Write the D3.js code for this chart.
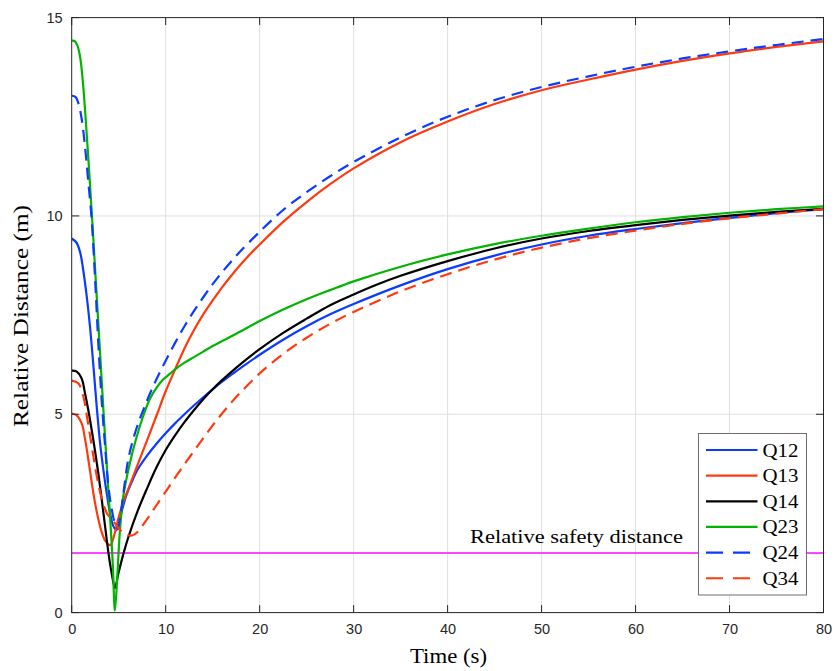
<!DOCTYPE html>
<html>
<head>
<meta charset="utf-8">
<script src="https://cdn.jsdelivr.net/npm/d3@7"></script>
<style>
  html, body { margin: 0; padding: 0; background: #fff; }
  svg { display: block; }
</style>
</head>
<body>
<svg id="chart" width="836" height="671"></svg>
<script>
// ---- data (time s, relative distance m) ----
const xTicks = [0, 10, 20, 30, 40, 50, 60, 70, 80];
const yTicks = [0, 5, 10, 15];
const safetyDistance = 1.5;
const safetyLabel = "Relative safety distance";
const seriesNames = ["Q12", "Q13", "Q14", "Q23", "Q24", "Q34"];

const q12 = [[0,9.43],[0.5,9.33],[0.9,9.08],[1.25,8.6],[1.6,7.97],[1.95,7.2],[2.3,6.25],[2.66,5.2],[3.01,4.3],[3.37,3.6],[3.72,3.02],[4.07,2.52],[4.43,2.18],[4.75,2.08],[5.0,2.22],[5.32,2.55],[5.85,2.98],[6.4,3.3],[7,3.6],[8,3.95],[9,4.25],[10,4.52],[11,4.77],[12,5.0],[13,5.22],[14,5.43],[15,5.63],[16,5.82],[17,6.0],[18,6.17],[20,6.5],[22.5,6.88],[25,7.22],[27.5,7.52],[30,7.78],[35,8.25],[40,8.66],[45,9.0],[50,9.28],[55,9.5],[60,9.67],[65,9.82],[70,9.95],[75,10.07],[80,10.17]];
const q13 = [[0,5.02],[0.5,4.98],[1.06,4.77],[1.42,4.38],[1.77,3.86],[2.13,3.28],[2.48,2.77],[2.84,2.35],[3.19,2.03],[3.6,1.8],[4.1,1.7],[4.6,2.02],[5,2.4],[5.5,2.8],[6,3.1],[7,3.72],[8,4.33],[9,4.95],[10,5.58],[11,6.13],[12,6.66],[13,7.12],[14,7.52],[15,7.87],[16,8.2],[17,8.5],[18,8.78],[19,9.04],[20,9.28],[22.5,9.85],[25,10.35],[27.5,10.8],[30,11.2],[35,11.86],[40,12.38],[45,12.82],[50,13.17],[55,13.44],[60,13.69],[65,13.91],[70,14.1],[75,14.26],[80,14.4]];
const q14 = [[0,6.1],[0.5,6.08],[1.06,5.9],[1.4,5.55],[1.77,5.1],[2.13,4.6],[2.48,4.08],[2.84,3.5],[3.19,2.86],[3.55,2.18],[3.9,1.52],[4.25,1.0],[4.6,0.62],[4.96,0.98],[5.5,1.48],[6,1.88],[7,2.55],[8,3.12],[9,3.65],[10,4.1],[11,4.47],[12,4.8],[13,5.1],[14,5.38],[15,5.63],[16,5.86],[17,6.07],[18,6.27],[20,6.64],[22.5,7.05],[25,7.41],[27.5,7.75],[30,8.02],[32.5,8.27],[35,8.49],[40,8.86],[45,9.18],[50,9.43],[55,9.62],[60,9.77],[65,9.9],[70,10.01],[75,10.1],[80,10.18]];
const q23 = [[0,14.42],[0.3,14.41],[0.6,14.3],[0.9,14.0],[1.2,13.35],[1.5,12.4],[1.8,11.35],[2.13,10.1],[2.48,8.7],[2.75,7.62],[3.01,6.58],[3.37,5.13],[3.72,3.75],[4.07,2.45],[4.36,1.28],[4.6,0.05],[4.86,0.95],[5.14,2.1],[5.5,2.95],[6.2,3.78],[6.9,4.42],[7.6,4.95],[8.3,5.38],[9,5.66],[9.7,5.87],[10.5,6.03],[11,6.13],[12,6.3],[13,6.44],[14,6.58],[15,6.72],[17.5,7.03],[20,7.35],[22.5,7.64],[25,7.9],[27.5,8.13],[30,8.35],[35,8.72],[40,9.03],[45,9.29],[50,9.5],[55,9.68],[60,9.84],[65,9.97],[70,10.08],[75,10.17],[80,10.24]];
const q24 = [[0,13.03],[0.4,13.0],[0.7,12.85],[1.06,12.45],[1.42,11.74],[1.6,11.3],[1.77,10.85],[1.95,10.4],[2.13,9.9],[2.48,8.45],[2.84,6.75],[3.19,5.35],[3.55,4.2],[3.9,3.2],[4.25,2.62],[4.6,2.25],[4.89,2.13],[5.14,2.38],[5.5,3.0],[6.0,3.84],[6.7,4.5],[7.6,5.1],[8.7,5.72],[10,6.35],[11,6.8],[12,7.22],[13,7.6],[14,7.95],[15,8.28],[16,8.58],[17,8.86],[18,9.12],[20,9.6],[22.5,10.15],[25,10.6],[27.5,11.0],[30,11.36],[35,11.98],[40,12.5],[45,12.92],[50,13.25],[55,13.52],[60,13.76],[65,13.97],[70,14.15],[75,14.31],[80,14.46]];
const q34 = [[0,5.85],[0.7,5.78],[1.24,5.45],[1.6,4.98],[2.13,4.2],[2.66,3.45],[3.19,2.88],[3.72,2.52],[4.2,2.36],[4.6,2.25],[5.0,2.12],[5.5,2.01],[6.0,1.95],[6.5,1.95],[7,2.03],[8,2.35],[9,2.7],[10,3.05],[11,3.4],[12,3.74],[13,4.07],[14,4.4],[15,4.72],[16,5.02],[17,5.3],[18,5.56],[20,6.03],[22.5,6.52],[25,6.93],[27.5,7.28],[30,7.58],[35,8.1],[40,8.53],[45,8.9],[50,9.2],[55,9.44],[60,9.63],[65,9.8],[70,9.94],[75,10.06],[80,10.17]];

const seriesData = [q12, q13, q14, q23, q24, q34];
const seriesColors = ["#0b3bff", "#ff3a0f", "#000000", "#00b400", "#0b3bff", "#ff3a0f"];
const seriesDash = [null, null, null, null, "12,7", "12,7"];

// ---- layout ----
const svg = d3.select("#chart");
const plot = { left: 71.7, right: 823.5, top: 17.6, bottom: 612.6 };
const x = d3.scaleLinear().domain([0, 80]).range([plot.left, plot.right]);
const y = d3.scaleLinear().domain([0, 15]).range([plot.bottom, plot.top]);
const axisColor = "#262626";
const serif = "'Liberation Serif', 'DejaVu Serif', serif";
const sans = "'Liberation Sans', Arial, sans-serif";

// grid
const grid = svg.append("g");
grid.selectAll("line.gx").data(xTicks.slice(1, -1)).join("line")
  .attr("x1", d => x(d)).attr("x2", d => x(d))
  .attr("y1", plot.top).attr("y2", plot.bottom)
  .attr("stroke", "#dfdfdf").attr("stroke-width", 1);
grid.selectAll("line.gy").data(yTicks.slice(1, -1)).join("line")
  .attr("x1", plot.left).attr("x2", plot.right)
  .attr("y1", d => y(d)).attr("y2", d => y(d))
  .attr("stroke", "#dfdfdf").attr("stroke-width", 1);

// safety line
svg.append("line")
  .attr("x1", x(0)).attr("x2", x(80))
  .attr("y1", y(safetyDistance)).attr("y2", y(safetyDistance))
  .attr("stroke", "#ff44ff").attr("stroke-width", 2);

// series lines
const line = d3.line().x(d => x(d[0])).y(d => y(d[1])).curve(d3.curveCatmullRom.alpha(0.5));
svg.append("clipPath").attr("id", "clip").append("rect")
  .attr("x", plot.left).attr("y", plot.top)
  .attr("width", plot.right - plot.left).attr("height", plot.bottom - plot.top);
const lines = svg.append("g").attr("clip-path", "url(#clip)");
seriesData.forEach((s, i) => {
  lines.append("path").datum(s)
    .attr("d", line)
    .attr("fill", "none")
    .attr("stroke", seriesColors[i])
    .attr("stroke-width", 2.2)
    .attr("stroke-linejoin", "round")
    .attr("stroke-dasharray", seriesDash[i]);
});

// safety label
svg.append("text")
  .attr("x", 470).attr("y", y(safetyDistance) - 10)
  .attr("font-family", serif).attr("font-size", 19.5)
  .attr("textLength", 213).attr("lengthAdjust", "spacingAndGlyphs")
  .attr("fill", "#000")
  .text(safetyLabel);

// axes (MATLAB-style box with inward ticks)
const xAxis = d3.axisBottom(x).tickValues(xTicks).tickSize(0).tickPadding(11).tickFormat(d3.format("d"));
const yAxis = d3.axisLeft(y).tickValues(yTicks).tickSize(0).tickPadding(9).tickFormat(d3.format("d"));
const gx = svg.append("g").attr("transform", `translate(0,${plot.bottom})`).call(xAxis);
const gy = svg.append("g").attr("transform", `translate(${plot.left},0)`).call(yAxis);
[gx, gy].forEach(g => {
  g.select(".domain").remove();
  g.selectAll("text").attr("font-family", sans).attr("font-size", 14.5).attr("fill", axisColor);
});

// box
svg.append("rect")
  .attr("x", plot.left).attr("y", plot.top)
  .attr("width", plot.right - plot.left).attr("height", plot.bottom - plot.top)
  .attr("fill", "none").attr("stroke", axisColor).attr("stroke-width", 1);

// inward ticks on all four sides
const tickLen = 7.5;
const ticks = svg.append("g").attr("stroke", axisColor).attr("stroke-width", 1);
xTicks.forEach(t => {
  ticks.append("line").attr("x1", x(t)).attr("x2", x(t)).attr("y1", plot.bottom).attr("y2", plot.bottom - tickLen);
  ticks.append("line").attr("x1", x(t)).attr("x2", x(t)).attr("y1", plot.top).attr("y2", plot.top + tickLen);
});
yTicks.forEach(t => {
  ticks.append("line").attr("x1", plot.left).attr("x2", plot.left + tickLen).attr("y1", y(t)).attr("y2", y(t));
  ticks.append("line").attr("x1", plot.right).attr("x2", plot.right - tickLen).attr("y1", y(t)).attr("y2", y(t));
});

// axis labels
svg.append("text")
  .attr("x", 410).attr("y", 663)
  .attr("font-family", serif).attr("font-size", 20).attr("fill", "#000")
  .attr("textLength", 77).attr("lengthAdjust", "spacingAndGlyphs")
  .text("Time (s)");
svg.append("text")
  .attr("transform", `translate(28,427) rotate(-90)`)
  .attr("font-family", serif).attr("font-size", 20).attr("fill", "#000")
  .attr("textLength", 222).attr("lengthAdjust", "spacingAndGlyphs")
  .text("Relative Distance (m)");

// legend
const lg = svg.append("g");
lg.append("rect")
  .attr("x", 698.5).attr("y", 433.5).attr("width", 108).attr("height", 161.5)
  .attr("fill", "#fff").attr("stroke", "#6e6e6e").attr("stroke-width", 1);
seriesNames.forEach((name, i) => {
  const yy = 450 + i * 25.65;
  lg.append("line")
    .attr("x1", 706).attr("x2", 757.5).attr("y1", yy).attr("y2", yy)
    .attr("stroke", seriesColors[i]).attr("stroke-width", 2.2)
    .attr("stroke-dasharray", seriesDash[i] ? "17,10" : null);
  lg.append("text")
    .attr("x", 762.5).attr("y", yy + 6.5)
    .attr("font-family", serif).attr("font-size", 19).attr("fill", "#000")
    .attr("textLength", 36).attr("lengthAdjust", "spacingAndGlyphs")
    .text(name);
});
</script>
</body>
</html>
